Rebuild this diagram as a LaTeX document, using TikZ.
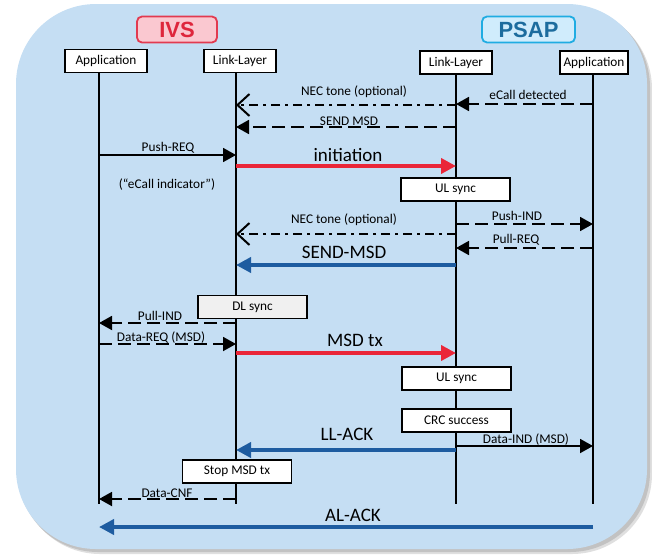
\documentclass[tikz,border=0pt]{standalone}
\usepackage{fontspec}
\setmainfont{Carlito}
\newfontfamily\hdrfont{Liberation Sans}
\usetikzlibrary{arrows.meta}
\definecolor{bgblue}{RGB}{197,222,243}
\definecolor{arrred}{RGB}{234,38,56}
\definecolor{arrblue}{RGB}{30,92,160}
\definecolor{ivsfill}{RGB}{250,200,208}
\definecolor{ivsline}{RGB}{226,58,80}
\definecolor{ivstext}{RGB}{222,38,60}
\definecolor{psapfill}{RGB}{208,236,252}
\definecolor{psapline}{RGB}{32,172,226}
\definecolor{psaptext}{RGB}{28,108,158}
\begin{document}
\begin{tikzpicture}[x=1pt,y=-1pt,
  every node/.style={font=\fontsize{13.3}{15}\selectfont, inner sep=0pt},
  lbox/.style={draw=black, line width=1.6pt, fill=white, minimum height=23pt},
  syncbox/.style={draw=black, line width=1.6pt, fill=white, minimum width=109pt, minimum height=23pt},
  hdr/.style={rounded corners=5pt, line width=1.8pt, minimum height=26pt,
     font=\hdrfont\bfseries\fontsize{22}{24}\selectfont},
  lifeline/.style={line width=1.8pt},
  msg/.style={line width=1.8pt, -{Triangle[length=13pt,width=14pt]}},
  dmsg/.style={msg, dash pattern=on 13pt off 6pt},
  nec/.style={line width=1.8pt, dash pattern=on 9pt off 5pt on 3pt off 5pt,
     -{Straight Barb[length=12pt,width=22pt,line width=2pt]}},
  big/.style={line width=4pt, -{Triangle[length=15pt,width=15pt]}},
  biglbl/.style={font=\fontsize{19}{21}\selectfont}
]
\useasboundingbox (0,0) rectangle (652,555);
% background panel with soft shadow
\fill[black!25, opacity=0.5, rounded corners=80pt] (20,9) rectangle (652,554);
\fill[black!35, opacity=0.5, rounded corners=80pt] (18,7) rectangle (650,552);
\fill[bgblue, rounded corners=80pt] (16,4) rectangle (647,549);

% headers
\node[hdr, draw=ivsline, fill=ivsfill, text=ivstext, minimum width=80pt] (ivs) at (177,29.5) {IVS};
\node[hdr, draw=psapline, fill=psapfill, text=psaptext, minimum width=93pt] (psap) at (528.5,29.5) {PSAP};

% lifeline heads
\node[lbox, minimum width=82pt] (appI) at (106,61) {Application};
\node[lbox, minimum width=72pt] (llI) at (240,61) {Link-Layer};
\node[lbox, minimum width=72pt] (llP) at (456,62.5) {Link-Layer};
\node[lbox, minimum width=68pt] (appP) at (594,62.5) {Application};

% lifeline ends
\coordinate (appIe) at (99,504);
\coordinate (llIe) at (236,504);
\coordinate (llPe) at (456,504);
\coordinate (appPe) at (593,504);

\draw[lifeline] (appI.south -| appIe) -- (appIe);
\draw[lifeline] (llI.south -| llIe) -- (llIe);
\draw[lifeline] (llP.south -| llPe) -- (llPe);
\draw[lifeline] (appP.south -| appPe) -- (appPe);

% messages
\draw[nec] (llPe |- 0,105) -- (llIe |- 0,105);
\node (l1) at (354,92) {NEC tone (optional)};
\draw[dmsg] (appPe |- 0,104) -- (llPe |- 0,104);
\node (l2) at (528,95) {eCall detected};
\draw[dmsg] (llPe |- 0,127) -- (llIe |- 0,127);
\node (l3) at (349,121) {SEND MSD};

\draw[msg] (appIe |- 0,155) -- (llIe |- 0,155);
\node (l4) at (168,148) {Push-REQ};
\draw[big, arrred] (llIe |- 0,166) -- (llPe |- 0,166);
\node[biglbl] (l5) at (348,155) {initiation};
\node (l6) at (167,185) {(“eCall indicator”)};

\node[syncbox] (ul1) at (455.5,189.5) {UL sync};

\draw[dmsg] (llPe |- 0,224) -- (appPe |- 0,224);
\node (l7) at (517,216) {Push-IND};
\draw[nec] (llPe |- 0,234) -- (llIe |- 0,234);
\node (l8) at (344,220) {NEC tone (optional)};
\draw[dmsg] (appPe |- 0,248) -- (llPe |- 0,248);
\node (l9) at (516,240) {Pull-REQ};
\draw[big, arrblue] (llPe |- 0,265) -- (llIe |- 0,265);
\node[biglbl] (l10) at (344,252) {SEND-MSD};

\node[syncbox, fill=black!6] (dl) at (252.5,307) {DL sync};
\draw[dmsg] (llIe |- 0,323) -- (appIe |- 0,323);
\node (l11) at (160,316) {Pull-IND};
\draw[dmsg] (appIe |- 0,344) -- (llIe |- 0,344);
\node (l12) at (161,338) {Data-REQ (MSD)};
\draw[big, arrred] (llIe |- 0,353) -- (llPe |- 0,353);
\node[biglbl] (l13) at (355,340) {MSD tx};

\node[syncbox] (ul2) at (456.5,378.5) {UL sync};
\node[syncbox] (crc) at (456.5,420.5) {CRC success};

\draw[big, arrblue] (llPe |- 0,450) -- (llIe |- 0,450);
\node[biglbl] (l14) at (347,434) {LL-ACK};
\draw[msg] (llPe |- 0,446) -- (appPe |- 0,446);
\node (l15) at (526,440) {Data-IND (MSD)};

\node[syncbox] (stop) at (237,471.5) {Stop MSD tx};
\draw[dmsg] (llIe |- 0,499) -- (appIe |- 0,499);
\node (l16) at (167,493) {Data-CNF};

\draw[big, arrblue] (appPe |- 0,527) -- (appIe |- 0,527);
\node[biglbl] (l17) at (353,515) {AL-ACK};
\end{tikzpicture}
\end{document}
